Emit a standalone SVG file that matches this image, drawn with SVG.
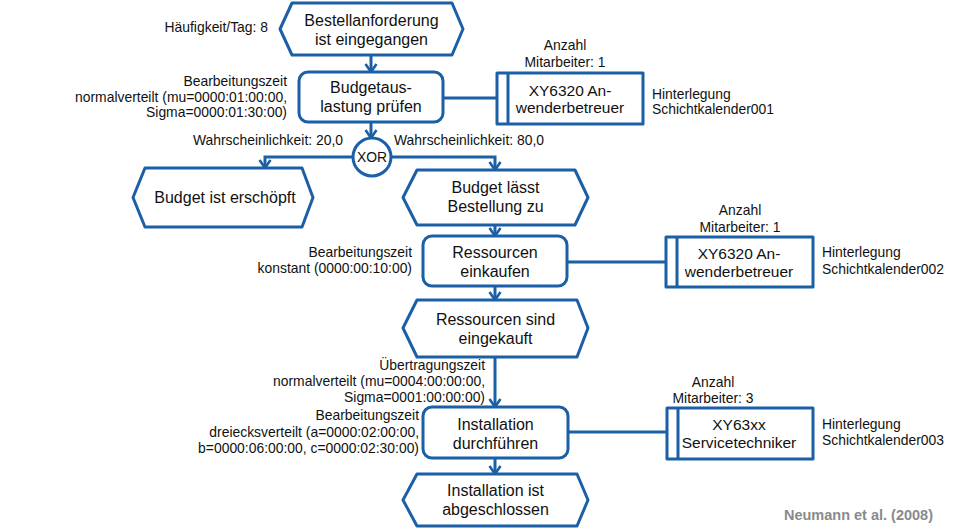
<svg xmlns="http://www.w3.org/2000/svg" width="955" height="528" viewBox="0 0 955 528">
<defs>
<marker id="arr" markerUnits="userSpaceOnUse" markerWidth="14" markerHeight="14" viewBox="0 0 14 14" refX="12" refY="7" orient="auto">
<path d="M4,1.5 L12,7 L4,12.5" fill="none" stroke="#1b5fa6" stroke-width="2.6"/>
</marker>
<style>
.shp{fill:#fff;stroke:#1b5fa6;stroke-width:3;stroke-linejoin:round}
.con{fill:none;stroke:#1b5fa6;stroke-width:3}
.nt{font-family:"Liberation Sans",Arial,sans-serif;font-size:16px;fill:#111;text-anchor:middle}
.ot{font-size:15.5px}
.lb{font-family:"Liberation Sans",Arial,sans-serif;font-size:13.9px;fill:#111}
.e{text-anchor:end}
.m{text-anchor:middle}
</style>
</defs>
<rect width="955" height="528" fill="#fff"/>

<g id="connectors">
<line class="con" x1="371" y1="55" x2="371" y2="72" marker-end="url(#arr)"/>
<line class="con" x1="371" y1="122" x2="371" y2="138" marker-end="url(#arr)"/>
<path class="con" d="M353,157 H265 V168" marker-end="url(#arr)"/>
<path class="con" d="M391,157 H495 V170" marker-end="url(#arr)"/>
<line class="con" x1="495" y1="225" x2="495" y2="236" marker-end="url(#arr)"/>
<line class="con" x1="495" y1="286" x2="495" y2="300" marker-end="url(#arr)"/>
<line class="con" x1="495" y1="357" x2="495" y2="407" marker-end="url(#arr)"/>
<line class="con" x1="495" y1="458" x2="495" y2="474" marker-end="url(#arr)"/>
<line class="con" x1="443" y1="98" x2="497" y2="98"/>
<line class="con" x1="567" y1="262" x2="666" y2="262"/>
<line class="con" x1="568" y1="432" x2="667" y2="432"/>
</g>

<g id="e1">
<polygon class="shp" points="280,29 292,3 452,3 463,29 452,55 292,55"/>
<text class="nt" x="371.5" y="26">Bestellanforderung</text>
<text class="nt" x="371.5" y="44.5">ist eingegangen</text>
<text class="lb e" x="268" y="32">Häufigkeit/Tag: 8</text>
</g>

<g id="f1">
<rect class="shp" x="299" y="72" width="144" height="50" rx="9"/>
<text class="nt" x="371" y="92.5">Budgetaus-</text>
<text class="nt" x="371" y="111.5">lastung prüfen</text>
<text class="lb e" x="287" y="86">Bearbeitungszeit</text>
<text class="lb e" x="287" y="101.5">normalverteilt (mu=0000:01:00:00,</text>
<text class="lb e" x="287" y="117">Sigma=0000:01:30:00)</text>
</g>

<g id="o1">
<rect class="shp" x="497" y="73" width="146" height="51"/>
<line class="con" x1="508" y1="73" x2="508" y2="124"/>
<text class="nt ot" x="570" y="95.5">XY6320 An-</text>
<text class="nt ot" x="570" y="113">wenderbetreuer</text>
<text class="lb m" x="565" y="50">Anzahl</text>
<text class="lb m" x="565" y="66.5">Mitarbeiter: 1</text>
<text class="lb" x="652" y="98.5">Hinterlegung</text>
<text class="lb" x="652" y="114">Schichtkalender001</text>
</g>

<g id="xor">
<circle class="shp" cx="372" cy="157" r="19"/>
<text class="lb m" x="372" y="162">XOR</text>
<text class="lb e" x="343" y="145">Wahrscheinlichkeit: 20,0</text>
<text class="lb" x="394" y="145">Wahrscheinlichkeit: 80,0</text>
</g>

<g id="e2a">
<polygon class="shp" points="133,197.5 145,168 302,168 313,197.5 302,227 145,227"/>
<text class="nt" x="225" y="203">Budget ist erschöpft</text>
</g>

<g id="e2b">
<polygon class="shp" points="403,197.5 417,170 575,170 588,197.5 575,225 417,225"/>
<text class="nt" x="495.5" y="193">Budget lässt</text>
<text class="nt" x="495.5" y="212">Bestellung zu</text>
</g>

<g id="f2">
<rect class="shp" x="423" y="236" width="144" height="50" rx="9"/>
<text class="nt" x="495" y="258">Ressourcen</text>
<text class="nt" x="495" y="277">einkaufen</text>
<text class="lb e" x="412" y="257">Bearbeitungszeit</text>
<text class="lb e" x="412" y="273">konstant (0000:00:10:00)</text>
</g>

<g id="o2">
<rect class="shp" x="666" y="237" width="147" height="50"/>
<line class="con" x1="677" y1="237" x2="677" y2="287"/>
<text class="nt ot" x="739" y="259">XY6320 An-</text>
<text class="nt ot" x="739" y="276.5">wenderbetreuer</text>
<text class="lb m" x="740" y="215">Anzahl</text>
<text class="lb m" x="740" y="231.5">Mitarbeiter: 1</text>
<text class="lb" x="822" y="256.5">Hinterlegung</text>
<text class="lb" x="822" y="273.5">Schichtkalender002</text>
</g>

<g id="e3">
<polygon class="shp" points="403,328 417,300 577,300 588,328 577,357 417,357"/>
<text class="nt" x="495.5" y="325">Ressourcen sind</text>
<text class="nt" x="495.5" y="344">eingekauft</text>
<text class="lb e" x="485" y="370">Übertragungszeit</text>
<text class="lb e" x="485" y="386">normalverteilt (mu=0004:00:00:00,</text>
<text class="lb e" x="485" y="402">Sigma=0001:00:00:00)</text>
</g>

<g id="f3">
<rect class="shp" x="423" y="407" width="145" height="51" rx="9"/>
<text class="nt" x="495.5" y="430">Installation</text>
<text class="nt" x="495.5" y="448.5">durchführen</text>
<text class="lb e" x="419" y="420">Bearbeitungszeit</text>
<text class="lb e" x="419" y="437">dreiecksverteilt (a=0000:02:00:00,</text>
<text class="lb e" x="419" y="453">b=0000:06:00:00, c=0000:02:30:00)</text>
</g>

<g id="o3">
<rect class="shp" x="667" y="408" width="146" height="51"/>
<line class="con" x1="678" y1="408" x2="678" y2="459"/>
<text class="nt ot" x="739" y="430">XY63xx</text>
<text class="nt ot" x="739" y="447.5">Servicetechniker</text>
<text class="lb m" x="713" y="387">Anzahl</text>
<text class="lb m" x="713" y="403">Mitarbeiter: 3</text>
<text class="lb" x="822" y="428.5">Hinterlegung</text>
<text class="lb" x="822" y="445">Schichtkalender003</text>
</g>

<g id="e4">
<polygon class="shp" points="403,500 417,474 577,474 588,500 577,526 417,526"/>
<text class="nt" x="495.5" y="496">Installation ist</text>
<text class="nt" x="495.5" y="514.5">abgeschlossen</text>
</g>

<text x="933" y="520" font-family="'Liberation Sans',Arial,sans-serif" font-size="14.5" font-weight="bold" fill="#8a8a8a" text-anchor="end">Neumann et al. (2008)</text>
</svg>
